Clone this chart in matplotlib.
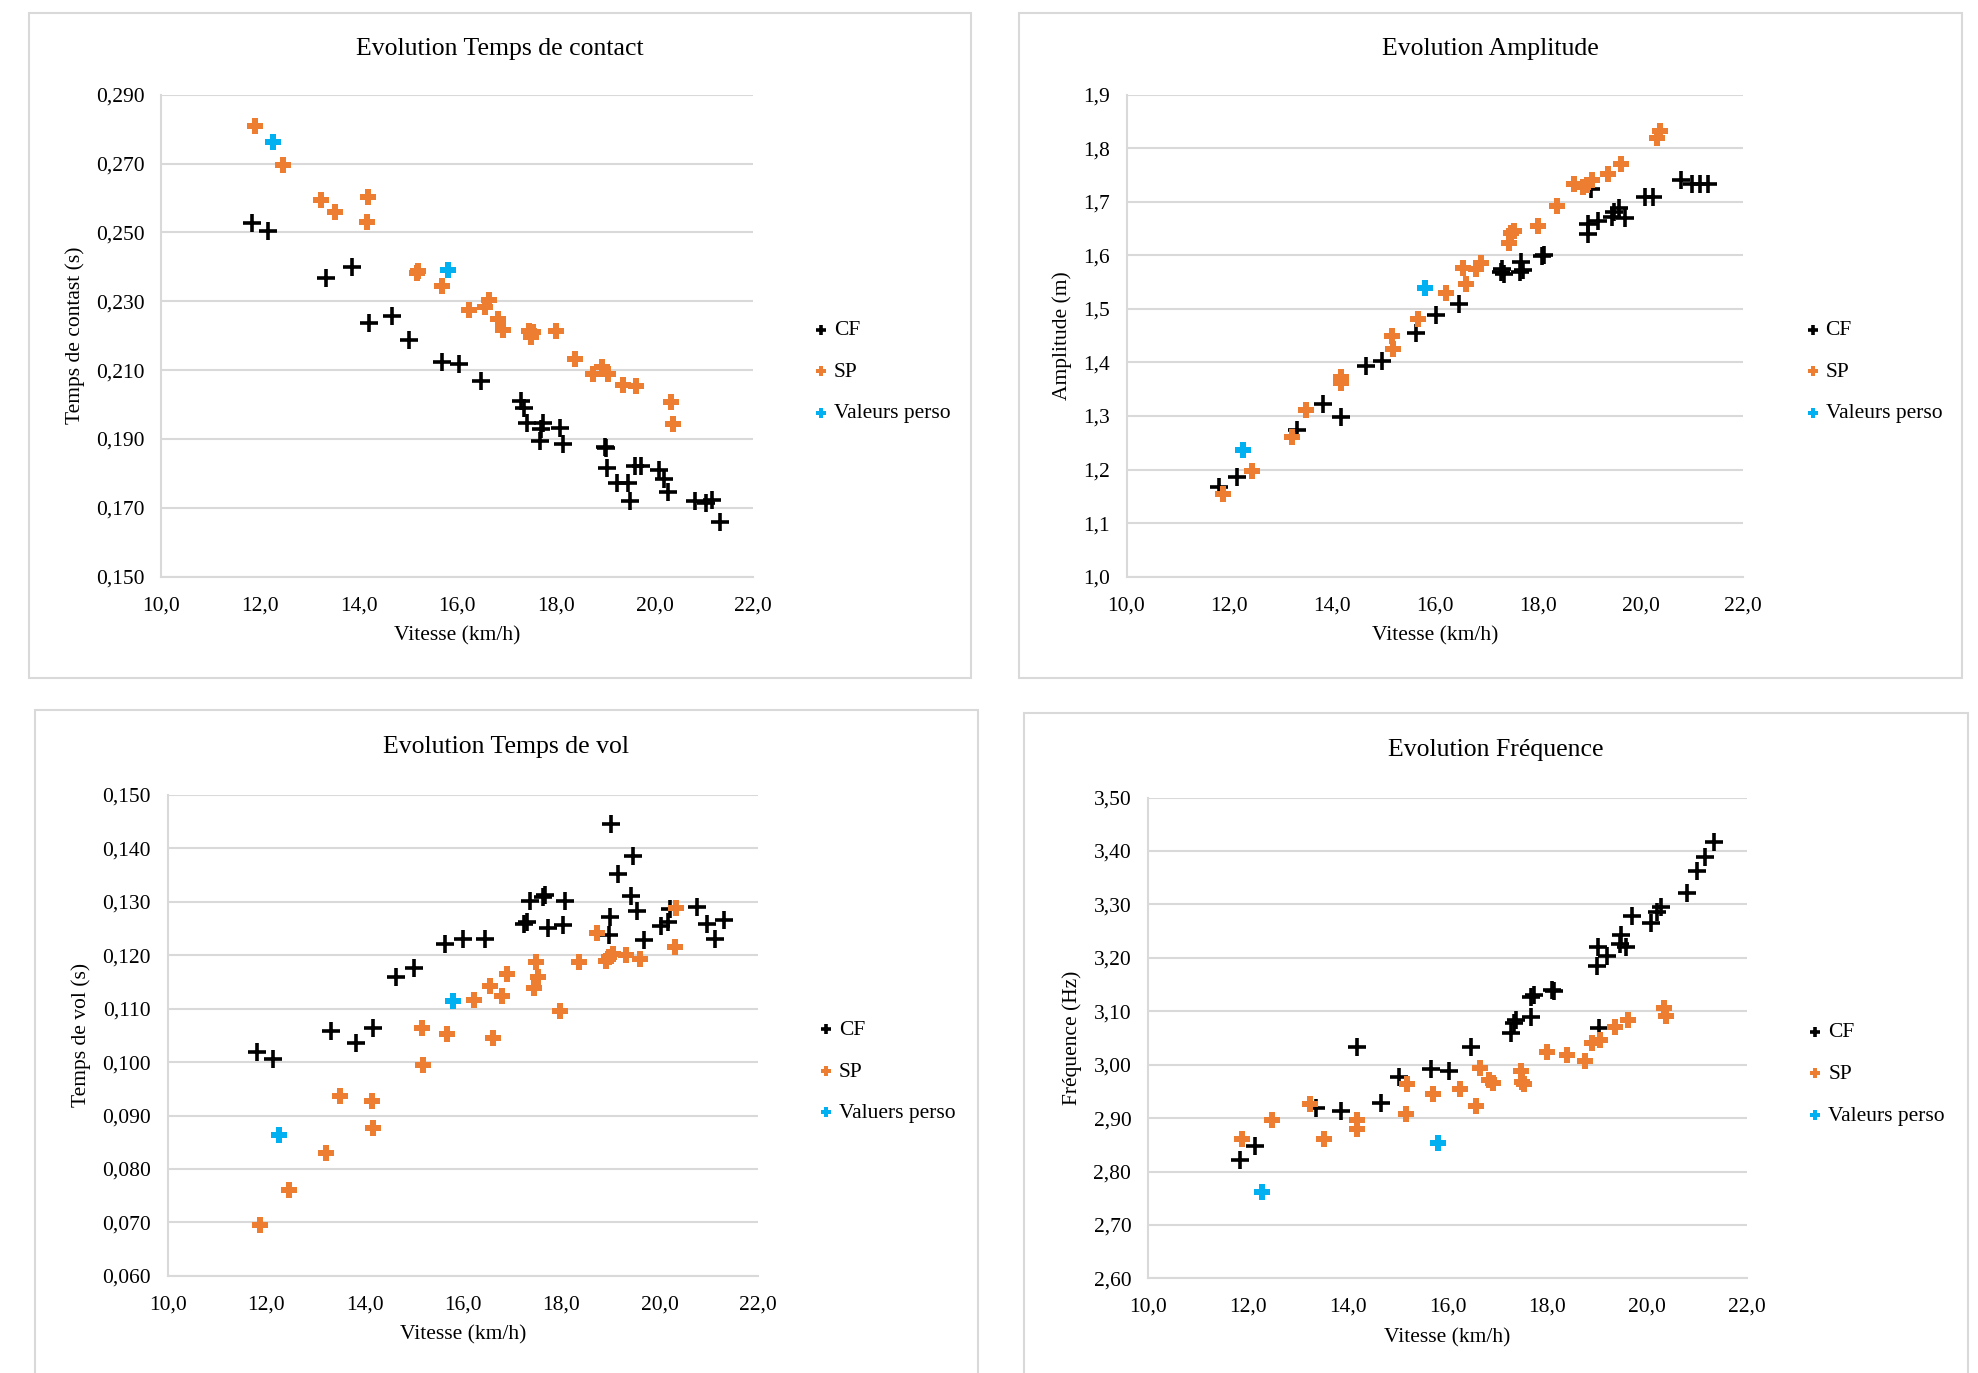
import matplotlib
matplotlib.use('Agg')
import matplotlib.pyplot as plt
from matplotlib.patches import Rectangle
from matplotlib.ticker import FuncFormatter

plt.rcParams['font.family'] = ['Liberation Serif', 'DejaVu Serif']

# --- Temps de contact ---
tc_cf_x = [11.84, 12.16, 13.34, 13.86, 14.21, 14.67, 15.03, 15.68, 16.04, 16.49, 17.29, 17.35, 17.41,
           17.74, 17.70, 17.67, 18.09, 18.14, 19.01, 18.99, 19.03, 19.23, 19.47, 19.50, 19.60, 19.72,
           20.10, 20.20, 20.28, 20.82, 21.04, 21.16, 21.33]
tc_cf_y = [0.2526, 0.2505, 0.2368, 0.2400, 0.2236, 0.2257, 0.2186, 0.2124, 0.2117, 0.2069, 0.2009,
           0.1990, 0.1946, 0.1946, 0.1929, 0.1893, 0.1931, 0.1885, 0.1873, 0.1877, 0.1815, 0.1772,
           0.1772, 0.1719, 0.1822, 0.1822, 0.1811, 0.1784, 0.1745, 0.1719, 0.1714, 0.1724, 0.1660]
tc_sp_x = [11.89, 12.47, 13.23, 13.52, 14.19, 14.17, 15.18, 15.20, 15.70, 16.24, 16.56, 16.64, 16.82,
           16.92, 17.46, 17.50, 17.53, 18.01, 18.39, 18.75, 18.93, 19.05, 19.36, 19.63, 20.33, 20.38]
tc_sp_y = [0.2810, 0.2697, 0.2594, 0.2560, 0.2602, 0.2529, 0.2381, 0.2387, 0.2345, 0.2276, 0.2282,
           0.2304, 0.2248, 0.2217, 0.2215, 0.2195, 0.2210, 0.2215, 0.2132, 0.2089, 0.2108, 0.2089,
           0.2058, 0.2055, 0.2006, 0.1944]
tc_perso_x = [12.27, 15.82]
tc_perso_y = [0.2762, 0.2391]

# --- Amplitude ---
amp_cf_x = [11.80, 12.14, 13.32, 13.82, 14.18, 14.66, 14.98, 15.64, 16.02, 16.46, 17.28, 17.34, 17.31,
            17.66, 17.68, 17.72, 18.08, 18.12, 18.98, 18.98, 19.04, 19.18, 19.44, 19.48, 19.58, 19.70,
            20.08, 20.24, 20.78, 21.00, 21.16, 21.32]
amp_cf_y = [1.168, 1.187, 1.273, 1.322, 1.299, 1.393, 1.402, 1.455, 1.488, 1.509, 1.569, 1.566, 1.574,
            1.569, 1.588, 1.573, 1.598, 1.601, 1.640, 1.659, 1.724, 1.665, 1.671, 1.680, 1.689, 1.669,
            1.709, 1.709, 1.740, 1.734, 1.734, 1.734]
amp_sp_x = [11.88, 12.44, 13.22, 13.50, 14.18, 14.18, 15.16, 15.18, 15.68, 16.22, 16.54, 16.60, 16.80,
            16.90, 17.44, 17.48, 17.54, 18.00, 18.38, 18.70, 18.88, 18.96, 19.06, 19.36, 19.62, 20.32, 20.38]
amp_sp_y = [1.154, 1.197, 1.260, 1.311, 1.361, 1.372, 1.450, 1.425, 1.481, 1.529, 1.576, 1.547, 1.574,
            1.585, 1.623, 1.641, 1.645, 1.655, 1.693, 1.734, 1.728, 1.732, 1.741, 1.751, 1.771, 1.819, 1.832]
amp_perso_x = [12.26, 15.80]
amp_perso_y = [1.237, 1.539]

# --- Temps de vol ---
tv_cf_x = [11.82, 12.14, 13.32, 13.82, 14.18, 14.64, 15.00, 15.64, 16.00, 16.44, 17.24, 17.30, 17.36,
           17.62, 17.66, 17.72, 18.04, 18.08, 19.00, 18.98, 18.96, 19.16, 19.46, 19.42, 19.54, 19.68,
           20.02, 20.16, 20.20, 20.76, 20.96, 21.12, 21.30]
tv_cf_y = [0.1019, 0.1005, 0.1058, 0.1035, 0.1063, 0.1159, 0.1177, 0.1221, 0.1230, 0.1230, 0.1259,
           0.1262, 0.1302, 0.1309, 0.1312, 0.1251, 0.1256, 0.1302, 0.1446, 0.1271, 0.1238, 0.1353,
           0.1385, 0.1311, 0.1283, 0.1228, 0.1254, 0.1263, 0.1286, 0.1291, 0.1259, 0.1230, 0.1266]
tv_sp_x = [11.88, 12.46, 13.22, 13.50, 14.16, 14.18, 15.16, 15.18, 15.68, 16.22, 16.54, 16.80, 16.62,
           16.90, 17.44, 17.52, 17.48, 17.98, 18.36, 18.72, 18.90, 18.96, 19.04, 19.32, 19.60, 20.30, 20.34]
tv_sp_y = [0.0695, 0.0760, 0.0829, 0.0937, 0.0928, 0.0877, 0.1063, 0.0994, 0.1053, 0.1116, 0.1142,
           0.1124, 0.1045, 0.1165, 0.1139, 0.1160, 0.1187, 0.1096, 0.1188, 0.1241, 0.1190, 0.1197,
           0.1202, 0.1200, 0.1193, 0.1216, 0.1289]
tv_perso_x = [12.26, 15.80]
tv_perso_y = [0.0863, 0.1114]

# --- Frequence ---
fr_cf_x = [11.85, 12.15, 13.36, 13.86, 14.19, 14.66, 15.02, 15.67, 16.02, 16.46, 17.28, 17.34, 17.38,
           17.68, 17.68, 17.74, 18.09, 18.13, 19.00, 19.02, 19.04, 19.19, 19.47, 19.46, 19.57, 19.70,
           20.08, 20.20, 20.27, 20.80, 21.00, 21.16, 21.34]
fr_cf_y = [2.822, 2.848, 2.918, 2.914, 3.033, 2.929, 2.977, 2.991, 2.988, 3.033, 3.059, 3.078, 3.084,
           3.089, 3.126, 3.130, 3.139, 3.138, 3.184, 3.220, 3.069, 3.203, 3.243, 3.225, 3.221, 3.278,
           3.265, 3.285, 3.295, 3.321, 3.363, 3.388, 3.417]
fr_sp_x = [11.89, 12.48, 13.24, 13.52, 14.19, 14.19, 15.16, 15.19, 15.71, 16.24, 16.57, 16.64, 16.83,
           16.91, 17.48, 17.50, 17.53, 18.00, 18.40, 18.76, 18.90, 19.05, 19.35, 19.62, 20.33, 20.37]
fr_sp_y = [2.860, 2.896, 2.926, 2.861, 2.896, 2.879, 2.907, 2.963, 2.946, 2.954, 2.923, 2.993, 2.971,
           2.966, 2.988, 2.968, 2.963, 3.023, 3.019, 3.007, 3.041, 3.046, 3.070, 3.084, 3.106, 3.091]
fr_perso_x = [12.28, 15.81]
fr_perso_y = [2.761, 2.853]

BLACK = '#000000'
ORANGE = '#ED7D31'
BLUE = '#00B0F0'
GRID = '#d9d9d9'

W, H = 1568.0, 1088.0  # layout measured on the shrunk reference


def fx(px):
    return px / W


def fy(py):
    return 1 - py / H


fig = plt.figure(figsize=(19.78, 13.73), dpi=100)

panels = [
    dict(ax=(128, 75, 597, 457), box=(23, 10, 770, 537), title='Evolution Temps de contact',
         ylabel='Temps de contast (s)', cf=(tc_cf_x, tc_cf_y), sp=(tc_sp_x, tc_sp_y),
         perso=(tc_perso_x, tc_perso_y), ylim=(0.150, 0.290), step=0.02, fmt='{:.3f}',
         perso_label='Valeurs perso'),
    dict(ax=(893, 75, 1382, 457), box=(808, 10, 1555, 537), title='Evolution Amplitude',
         ylabel='Amplitude (m)', cf=(amp_cf_x, amp_cf_y), sp=(amp_sp_x, amp_sp_y),
         perso=(amp_perso_x, amp_perso_y), ylim=(1.0, 1.9), step=0.1, fmt='{:.1f}',
         perso_label='Valeurs perso'),
    dict(ax=(133, 630, 601, 1011), box=(28, 563, 775, 1095), title='Evolution Temps de vol',
         ylabel='Temps de vol (s)', cf=(tv_cf_x, tv_cf_y), sp=(tv_sp_x, tv_sp_y),
         perso=(tv_perso_x, tv_perso_y), ylim=(0.060, 0.150), step=0.01, fmt='{:.3f}',
         perso_label='Valuers perso'),
    dict(ax=(910, 632, 1385, 1013), box=(812, 565, 1560, 1095), title='Evolution Fréquence',
         ylabel='Fréquence (Hz)', cf=(fr_cf_x, fr_cf_y), sp=(fr_sp_x, fr_sp_y),
         perso=(fr_perso_x, fr_perso_y), ylim=(2.60, 3.50), step=0.1, fmt='{:.2f}',
         perso_label='Valeurs perso'),
]

for p in panels:
    bl, bt, br, bb = p['box']
    fig.patches.append(Rectangle((fx(bl), fy(bb)), fx(br - bl), (bb - bt) / H,
                                 transform=fig.transFigure, fill=False,
                                 edgecolor=GRID, linewidth=1.5, zorder=0))
    fig.text(fx((bl + br) / 2), fy(bt + 29), p['title'], ha='center', va='center', fontsize=18.5)

    l, t, r, b = p['ax']
    ax = fig.add_axes([fx(l), fy(b), fx(r - l), (b - t) / H])

    ax.scatter(*p['cf'], marker='+', s=170, linewidths=2.6, color=BLACK, label='CF', zorder=3)
    ax.scatter(*p['sp'], marker='P', s=145, linewidths=0, color=ORANGE, label='SP', zorder=3)
    ax.scatter(*p['perso'], marker='P', s=145, linewidths=0, color=BLUE,
               label=p['perso_label'], zorder=3)

    lo, hi = p['ylim']
    n = int(round((hi - lo) / p['step']))
    ticks = [lo + i * p['step'] for i in range(n + 1)]
    ax.set_ylim(lo, hi)
    ax.set_yticks(ticks)
    fmt = p['fmt']
    ax.yaxis.set_major_formatter(FuncFormatter(lambda v, pos, f=fmt: f.format(v).replace('.', ',')))
    ax.set_xlim(10, 22)
    ax.set_xticks([10, 12, 14, 16, 18, 20, 22])
    ax.xaxis.set_major_formatter(FuncFormatter(lambda v, pos: '{:.1f}'.format(v).replace('.', ',')))

    ax.grid(axis='y', color=GRID, linewidth=1.5, zorder=0)
    ax.set_axisbelow(True)
    for side in ['top', 'right']:
        ax.spines[side].set_visible(False)
    for side in ['left', 'bottom']:
        ax.spines[side].set_color(GRID)
        ax.spines[side].set_linewidth(1.5)
    ax.tick_params(length=0, labelsize=15.5, pad=12)
    ax.tick_params(axis='x', pad=14)

    ax.set_xlabel('Vitesse (km/h)', fontsize=15.5, labelpad=8)
    ax.set_ylabel(p['ylabel'], fontsize=15.5, labelpad=8)

    ax.legend(loc='center left', bbox_to_anchor=(1.06, 0.425), frameon=False, fontsize=15.5,
              handletextpad=0.0, labelspacing=1.0, markerscale=0.55, handlelength=1.2,
              scatterpoints=1)

fig.savefig('out.png', dpi=100)
